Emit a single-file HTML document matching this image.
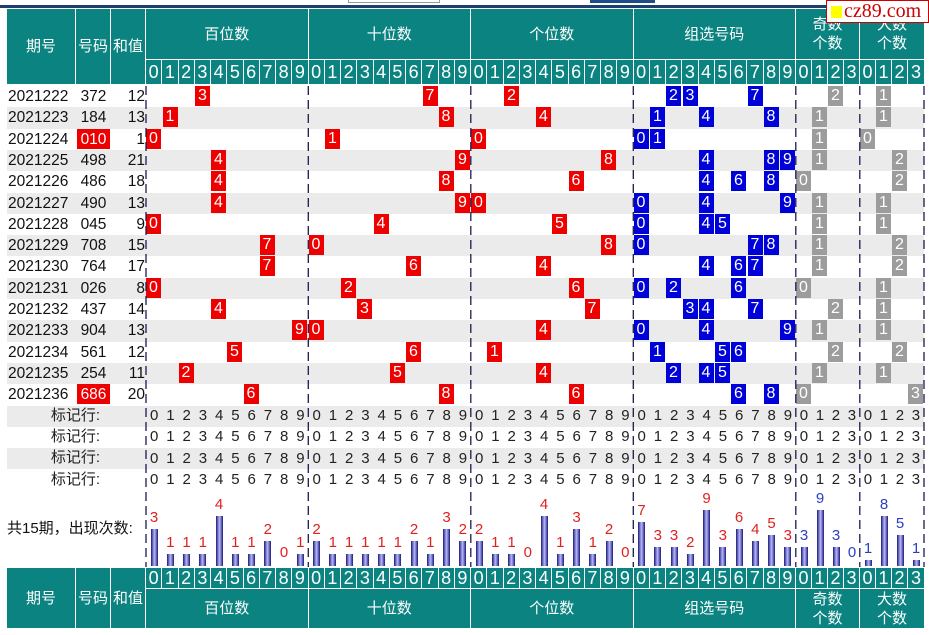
<!DOCTYPE html>
<html><head><meta charset="utf-8">
<style>
*{margin:0;padding:0;box-sizing:border-box}
body{width:929px;height:635px;background:#fff;position:relative;overflow:hidden;font-family:"Liberation Sans","Noto Sans CJK SC",sans-serif;color:#111}
.a{position:absolute}
.h{position:absolute;background:#0b8481;color:#fff;display:flex;align-items:center;justify-content:center;text-align:center;font-size:15px;line-height:19px}
.d{position:absolute;top:60px;background:#0b8481;color:#fff;font-size:18px;text-align:center;line-height:24px;height:24px;width:15.25px}
.f .d{top:568px;height:20px;line-height:20px}
.row{position:absolute;left:7px;width:917px;height:21.3px;font-size:15.5px;line-height:21px}
.g{background:#ebebeb}
.row .p{position:absolute;left:1px}
.row .n{position:absolute;left:70px;width:33px;text-align:center}
.row .n.red{background:#e00;color:#fff;height:20px}
.row .s{position:absolute;left:104px;width:34px;text-align:right}
.m{position:absolute;top:0;height:20px;width:15px;color:#fff;text-align:center;line-height:20px;font-size:16px;font-style:normal}
.r{background:#e00}.b{background:#0000d8}.k{background:#9c9c9c}
.mk{position:absolute;font-size:15px;line-height:21px;color:#222}
.dg{position:absolute;font-size:15px;line-height:21px;color:#222;letter-spacing:7.91px;white-space:nowrap}
.dq{letter-spacing:7.66px}
.bar{position:absolute;width:7px;background:linear-gradient(to right,#1a1a78,#b8b8ff 50%,#1a1a78)}
.lb{position:absolute;width:16px;text-align:center;font-size:15px;line-height:18px;color:#e02020}
.bl{color:#2a3fc0}
</style></head><body>
<div class="a" style="left:0;top:5px;width:929px;height:3px;background:#1d3f6e"></div>
<div class="a" style="left:348px;top:-2px;width:92px;height:5px;border:1px solid #999;background:#fff"></div>
<div class="a" style="left:590px;top:0;width:65px;height:3px;background:#1d4e89"></div>

<div class="h" style="left:7px;top:9px;width:68px;height:75px">期号</div>
<div class="h" style="left:76px;top:9px;width:34px;height:75px">号码</div>
<div class="h" style="left:111px;top:9px;width:34px;height:75px">和值</div>
<div class="h" style="left:146px;top:9px;width:161.5px;height:50px">百位数</div>
<div class="h" style="left:308.5px;top:9px;width:161.5px;height:50px">十位数</div>
<div class="h" style="left:471px;top:9px;width:161.5px;height:50px">个位数</div>
<div class="h" style="left:633.5px;top:9px;width:161.5px;height:50px">组选号码</div>
<div class="h" style="left:796px;top:9px;width:63px;height:50px">奇数<br>个数</div>
<div class="h" style="left:860px;top:9px;width:64px;height:50px">大数<br>个数</div>

<div>
<div class="d" style="left:146px">0</div><div class="d" style="left:162.25px">1</div><div class="d" style="left:178.5px">2</div><div class="d" style="left:194.75px">3</div><div class="d" style="left:211px">4</div><div class="d" style="left:227.25px">5</div><div class="d" style="left:243.5px">6</div><div class="d" style="left:259.75px">7</div><div class="d" style="left:276px">8</div><div class="d" style="left:292.25px">9</div>
<div class="d" style="left:308.5px">0</div><div class="d" style="left:324.75px">1</div><div class="d" style="left:341px">2</div><div class="d" style="left:357.25px">3</div><div class="d" style="left:373.5px">4</div><div class="d" style="left:389.75px">5</div><div class="d" style="left:406px">6</div><div class="d" style="left:422.25px">7</div><div class="d" style="left:438.5px">8</div><div class="d" style="left:454.75px">9</div>
<div class="d" style="left:471px">0</div><div class="d" style="left:487.25px">1</div><div class="d" style="left:503.5px">2</div><div class="d" style="left:519.75px">3</div><div class="d" style="left:536px">4</div><div class="d" style="left:552.25px">5</div><div class="d" style="left:568.5px">6</div><div class="d" style="left:584.75px">7</div><div class="d" style="left:601px">8</div><div class="d" style="left:617.25px">9</div>
<div class="d" style="left:633.5px">0</div><div class="d" style="left:649.75px">1</div><div class="d" style="left:666px">2</div><div class="d" style="left:682.25px">3</div><div class="d" style="left:698.5px">4</div><div class="d" style="left:714.75px">5</div><div class="d" style="left:731px">6</div><div class="d" style="left:747.25px">7</div><div class="d" style="left:763.5px">8</div><div class="d" style="left:779.75px">9</div>
<div class="d" style="left:796px;width:15px">0</div><div class="d" style="left:812px;width:15px">1</div><div class="d" style="left:828px;width:15px">2</div><div class="d" style="left:844px;width:15px">3</div>
<div class="d" style="left:860px;width:15px">0</div><div class="d" style="left:876px;width:15px">1</div><div class="d" style="left:892px;width:15px">2</div><div class="d" style="left:908px;width:16px">3</div>
</div>

<div class="row" style="top:86px"><span class="p">2021222</span><span class="n">372</span><span class="s">12</span>
<i class="m r" style="left:188px">3</i><i class="m r" style="left:415.5px">7</i><i class="m r" style="left:497px">2</i>
<i class="m b" style="left:659px">2</i><i class="m b" style="left:675.5px">3</i><i class="m b" style="left:740.5px">7</i><i class="m k" style="left:821px">2</i><i class="m k" style="left:869px">1</i></div>
<div class="row g" style="top:107.3px"><span class="p">2021223</span><span class="n">184</span><span class="s">13</span>
<i class="m r" style="left:155.5px">1</i><i class="m r" style="left:431.5px">8</i><i class="m r" style="left:529px">4</i>
<i class="m b" style="left:643px">1</i><i class="m b" style="left:691.5px">4</i><i class="m b" style="left:756.5px">8</i><i class="m k" style="left:805px">1</i><i class="m k" style="left:869px">1</i></div>
<div class="row" style="top:128.6px"><span class="p">2021224</span><span class="n red">010</span><span class="s">1</span>
<i class="m r" style="left:139px">0</i><i class="m r" style="left:318px">1</i><i class="m r" style="left:464px">0</i>
<i class="m b" style="left:626.5px">0</i><i class="m b" style="left:643px">1</i><i class="m k" style="left:805px">1</i><i class="m k" style="left:853px">0</i></div>
<div class="row g" style="top:149.9px"><span class="p">2021225</span><span class="n">498</span><span class="s">21</span>
<i class="m r" style="left:204px">4</i><i class="m r" style="left:448px">9</i><i class="m r" style="left:594px">8</i>
<i class="m b" style="left:691.5px">4</i><i class="m b" style="left:756.5px">8</i><i class="m b" style="left:773px">9</i><i class="m k" style="left:805px">1</i><i class="m k" style="left:885px">2</i></div>
<div class="row" style="top:171.2px"><span class="p">2021226</span><span class="n">486</span><span class="s">18</span>
<i class="m r" style="left:204px">4</i><i class="m r" style="left:431.5px">8</i><i class="m r" style="left:561.5px">6</i>
<i class="m b" style="left:691.5px">4</i><i class="m b" style="left:724px">6</i><i class="m b" style="left:756.5px">8</i><i class="m k" style="left:789px">0</i><i class="m k" style="left:885px">2</i></div>
<div class="row g" style="top:192.5px"><span class="p">2021227</span><span class="n">490</span><span class="s">13</span>
<i class="m r" style="left:204px">4</i><i class="m r" style="left:448px">9</i><i class="m r" style="left:464px">0</i>
<i class="m b" style="left:626.5px">0</i><i class="m b" style="left:691.5px">4</i><i class="m b" style="left:773px">9</i><i class="m k" style="left:805px">1</i><i class="m k" style="left:869px">1</i></div>
<div class="row" style="top:213.8px"><span class="p">2021228</span><span class="n">045</span><span class="s">9</span>
<i class="m r" style="left:139px">0</i><i class="m r" style="left:366.5px">4</i><i class="m r" style="left:545px">5</i>
<i class="m b" style="left:626.5px">0</i><i class="m b" style="left:691.5px">4</i><i class="m b" style="left:708px">5</i><i class="m k" style="left:805px">1</i><i class="m k" style="left:869px">1</i></div>
<div class="row g" style="top:235.1px"><span class="p">2021229</span><span class="n">708</span><span class="s">15</span>
<i class="m r" style="left:252.5px">7</i><i class="m r" style="left:301.5px">0</i><i class="m r" style="left:594px">8</i>
<i class="m b" style="left:626.5px">0</i><i class="m b" style="left:740.5px">7</i><i class="m b" style="left:756.5px">8</i><i class="m k" style="left:805px">1</i><i class="m k" style="left:885px">2</i></div>
<div class="row" style="top:256.4px"><span class="p">2021230</span><span class="n">764</span><span class="s">17</span>
<i class="m r" style="left:252.5px">7</i><i class="m r" style="left:399px">6</i><i class="m r" style="left:529px">4</i>
<i class="m b" style="left:691.5px">4</i><i class="m b" style="left:724px">6</i><i class="m b" style="left:740.5px">7</i><i class="m k" style="left:805px">1</i><i class="m k" style="left:885px">2</i></div>
<div class="row g" style="top:277.7px"><span class="p">2021231</span><span class="n">026</span><span class="s">8</span>
<i class="m r" style="left:139px">0</i><i class="m r" style="left:334px">2</i><i class="m r" style="left:561.5px">6</i>
<i class="m b" style="left:626.5px">0</i><i class="m b" style="left:659px">2</i><i class="m b" style="left:724px">6</i><i class="m k" style="left:789px">0</i><i class="m k" style="left:869px">1</i></div>
<div class="row" style="top:299px"><span class="p">2021232</span><span class="n">437</span><span class="s">14</span>
<i class="m r" style="left:204px">4</i><i class="m r" style="left:350px">3</i><i class="m r" style="left:577.5px">7</i>
<i class="m b" style="left:675.5px">3</i><i class="m b" style="left:691.5px">4</i><i class="m b" style="left:740.5px">7</i><i class="m k" style="left:821px">2</i><i class="m k" style="left:869px">1</i></div>
<div class="row g" style="top:320.3px"><span class="p">2021233</span><span class="n">904</span><span class="s">13</span>
<i class="m r" style="left:285px">9</i><i class="m r" style="left:301.5px">0</i><i class="m r" style="left:529px">4</i>
<i class="m b" style="left:626.5px">0</i><i class="m b" style="left:691.5px">4</i><i class="m b" style="left:773px">9</i><i class="m k" style="left:805px">1</i><i class="m k" style="left:869px">1</i></div>
<div class="row" style="top:341.6px"><span class="p">2021234</span><span class="n">561</span><span class="s">12</span>
<i class="m r" style="left:220px">5</i><i class="m r" style="left:399px">6</i><i class="m r" style="left:480px">1</i>
<i class="m b" style="left:643px">1</i><i class="m b" style="left:708px">5</i><i class="m b" style="left:724px">6</i><i class="m k" style="left:821px">2</i><i class="m k" style="left:885px">2</i></div>
<div class="row g" style="top:362.9px"><span class="p">2021235</span><span class="n">254</span><span class="s">11</span>
<i class="m r" style="left:171.5px">2</i><i class="m r" style="left:383px">5</i><i class="m r" style="left:529px">4</i>
<i class="m b" style="left:659px">2</i><i class="m b" style="left:691.5px">4</i><i class="m b" style="left:708px">5</i><i class="m k" style="left:805px">1</i><i class="m k" style="left:869px">1</i></div>
<div class="row" style="top:384.2px"><span class="p">2021236</span><span class="n red">686</span><span class="s">20</span>
<i class="m r" style="left:236.5px">6</i><i class="m r" style="left:431.5px">8</i><i class="m r" style="left:561.5px">6</i>
<i class="m b" style="left:724px">6</i><i class="m b" style="left:756.5px">8</i><i class="m k" style="left:789px">0</i><i class="m k" style="left:901px">3</i></div>

<div class="row g" style="top:405.5px"></div>
<div class="row" style="top:426.8px"></div>
<div class="row g" style="top:448.1px"></div>
<div class="row" style="top:469.4px"></div>
<div class="mk" style="left:40px;top:405px;width:60px;text-align:right">标记行:</div>
<div class="mk" style="left:40px;top:426px;width:60px;text-align:right">标记行:</div>
<div class="mk" style="left:40px;top:447px;width:60px;text-align:right">标记行:</div>
<div class="mk" style="left:40px;top:469px;width:60px;text-align:right">标记行:</div>

<div class="dg" style="left:150px;top:405px">0123456789</div><div class="dg" style="left:312.5px;top:405px">0123456789</div><div class="dg" style="left:475px;top:405px">0123456789</div><div class="dg" style="left:637.5px;top:405px">0123456789</div><div class="dg dq" style="left:799.8px;top:405px">0123</div><div class="dg dq" style="left:863.8px;top:405px">0123</div>
<div class="dg" style="left:150px;top:426.3px">0123456789</div><div class="dg" style="left:312.5px;top:426.3px">0123456789</div><div class="dg" style="left:475px;top:426.3px">0123456789</div><div class="dg" style="left:637.5px;top:426.3px">0123456789</div><div class="dg dq" style="left:799.8px;top:426.3px">0123</div><div class="dg dq" style="left:863.8px;top:426.3px">0123</div>
<div class="dg" style="left:150px;top:447.6px">0123456789</div><div class="dg" style="left:312.5px;top:447.6px">0123456789</div><div class="dg" style="left:475px;top:447.6px">0123456789</div><div class="dg" style="left:637.5px;top:447.6px">0123456789</div><div class="dg dq" style="left:799.8px;top:447.6px">0123</div><div class="dg dq" style="left:863.8px;top:447.6px">0123</div>
<div class="dg" style="left:150px;top:468.9px">0123456789</div><div class="dg" style="left:312.5px;top:468.9px">0123456789</div><div class="dg" style="left:475px;top:468.9px">0123456789</div><div class="dg" style="left:637.5px;top:468.9px">0123456789</div><div class="dg dq" style="left:799.8px;top:468.9px">0123</div><div class="dg dq" style="left:863.8px;top:468.9px">0123</div>

<div class="a" style="left:7px;top:519px;font-size:15px;line-height:20px">共15期，出现次数:</div>

<!-- bars 百 -->
<div class="bar" style="left:150.6px;top:528.5px;height:37.5px"></div><div class="lb" style="left:146px;top:508.5px">3</div>
<div class="bar" style="left:166.85px;top:553.5px;height:12.5px"></div><div class="lb" style="left:162.25px;top:533.5px">1</div>
<div class="bar" style="left:183.1px;top:553.5px;height:12.5px"></div><div class="lb" style="left:178.5px;top:533.5px">1</div>
<div class="bar" style="left:199.35px;top:553.5px;height:12.5px"></div><div class="lb" style="left:194.75px;top:533.5px">1</div>
<div class="bar" style="left:215.6px;top:516px;height:50px"></div><div class="lb" style="left:211px;top:496px">4</div>
<div class="bar" style="left:231.85px;top:553.5px;height:12.5px"></div><div class="lb" style="left:227.25px;top:533.5px">1</div>
<div class="bar" style="left:248.1px;top:553.5px;height:12.5px"></div><div class="lb" style="left:243.5px;top:533.5px">1</div>
<div class="bar" style="left:264.35px;top:541px;height:25px"></div><div class="lb" style="left:259.75px;top:521px">2</div>
<div class="lb" style="left:276px;top:544px">0</div>
<div class="bar" style="left:296.85px;top:553.5px;height:12.5px"></div><div class="lb" style="left:292.25px;top:533.5px">1</div>
<!-- 十 -->
<div class="bar" style="left:313.1px;top:541px;height:25px"></div><div class="lb" style="left:308.5px;top:521px">2</div>
<div class="bar" style="left:329.35px;top:553.5px;height:12.5px"></div><div class="lb" style="left:324.75px;top:533.5px">1</div>
<div class="bar" style="left:345.6px;top:553.5px;height:12.5px"></div><div class="lb" style="left:341px;top:533.5px">1</div>
<div class="bar" style="left:361.85px;top:553.5px;height:12.5px"></div><div class="lb" style="left:357.25px;top:533.5px">1</div>
<div class="bar" style="left:378.1px;top:553.5px;height:12.5px"></div><div class="lb" style="left:373.5px;top:533.5px">1</div>
<div class="bar" style="left:394.35px;top:553.5px;height:12.5px"></div><div class="lb" style="left:389.75px;top:533.5px">1</div>
<div class="bar" style="left:410.6px;top:541px;height:25px"></div><div class="lb" style="left:406px;top:521px">2</div>
<div class="bar" style="left:426.85px;top:553.5px;height:12.5px"></div><div class="lb" style="left:422.25px;top:533.5px">1</div>
<div class="bar" style="left:443.1px;top:528.5px;height:37.5px"></div><div class="lb" style="left:438.5px;top:508.5px">3</div>
<div class="bar" style="left:459.35px;top:541px;height:25px"></div><div class="lb" style="left:454.75px;top:521px">2</div>
<!-- 个 -->
<div class="bar" style="left:475.6px;top:541px;height:25px"></div><div class="lb" style="left:471px;top:521px">2</div>
<div class="bar" style="left:491.85px;top:553.5px;height:12.5px"></div><div class="lb" style="left:487.25px;top:533.5px">1</div>
<div class="bar" style="left:508.1px;top:553.5px;height:12.5px"></div><div class="lb" style="left:503.5px;top:533.5px">1</div>
<div class="lb" style="left:519.75px;top:544px">0</div>
<div class="bar" style="left:540.6px;top:516px;height:50px"></div><div class="lb" style="left:536px;top:496px">4</div>
<div class="bar" style="left:556.85px;top:553.5px;height:12.5px"></div><div class="lb" style="left:552.25px;top:533.5px">1</div>
<div class="bar" style="left:573.1px;top:528.5px;height:37.5px"></div><div class="lb" style="left:568.5px;top:508.5px">3</div>
<div class="bar" style="left:589.35px;top:553.5px;height:12.5px"></div><div class="lb" style="left:584.75px;top:533.5px">1</div>
<div class="bar" style="left:605.6px;top:541px;height:25px"></div><div class="lb" style="left:601px;top:521px">2</div>
<div class="lb" style="left:617.25px;top:544px">0</div>
<!-- 组选 -->
<div class="bar" style="left:638.1px;top:522.25px;height:43.75px"></div><div class="lb" style="left:633.5px;top:502.25px">7</div>
<div class="bar" style="left:654.35px;top:547.25px;height:18.75px"></div><div class="lb" style="left:649.75px;top:527.25px">3</div>
<div class="bar" style="left:670.6px;top:547.25px;height:18.75px"></div><div class="lb" style="left:666px;top:527.25px">3</div>
<div class="bar" style="left:686.85px;top:553.5px;height:12.5px"></div><div class="lb" style="left:682.25px;top:533.5px">2</div>
<div class="bar" style="left:703.1px;top:509.75px;height:56.25px"></div><div class="lb" style="left:698.5px;top:489.75px">9</div>
<div class="bar" style="left:719.35px;top:547.25px;height:18.75px"></div><div class="lb" style="left:714.75px;top:527.25px">3</div>
<div class="bar" style="left:735.6px;top:528.5px;height:37.5px"></div><div class="lb" style="left:731px;top:508.5px">6</div>
<div class="bar" style="left:751.85px;top:541px;height:25px"></div><div class="lb" style="left:747.25px;top:521px">4</div>
<div class="bar" style="left:768.1px;top:534.75px;height:31.25px"></div><div class="lb" style="left:763.5px;top:514.75px">5</div>
<div class="bar" style="left:784.35px;top:547.25px;height:18.75px"></div><div class="lb" style="left:779.75px;top:527.25px">3</div>
<!-- 奇 -->
<div class="bar" style="left:800.5px;top:547.25px;height:18.75px"></div><div class="lb bl" style="left:796px;top:527.25px">3</div>
<div class="bar" style="left:816.5px;top:509.75px;height:56.25px"></div><div class="lb bl" style="left:812px;top:489.75px">9</div>
<div class="bar" style="left:832.5px;top:547.25px;height:18.75px"></div><div class="lb bl" style="left:828px;top:527.25px">3</div>
<div class="lb bl" style="left:844px;top:544px">0</div>
<!-- 大 -->
<div class="bar" style="left:864.5px;top:559.75px;height:6.25px"></div><div class="lb bl" style="left:860px;top:539.75px">1</div>
<div class="bar" style="left:880.5px;top:516px;height:50px"></div><div class="lb bl" style="left:876px;top:496px">8</div>
<div class="bar" style="left:896.5px;top:534.75px;height:31.25px"></div><div class="lb bl" style="left:892px;top:514.75px">5</div>
<div class="bar" style="left:912.5px;top:559.75px;height:6.25px"></div><div class="lb bl" style="left:908px;top:539.75px">1</div>

<div class="h" style="left:7px;top:568px;width:68px;height:60px">期号</div>
<div class="h" style="left:76px;top:568px;width:34px;height:60px">号码</div>
<div class="h" style="left:111px;top:568px;width:34px;height:60px">和值</div>
<div class="h" style="left:146px;top:589px;width:161.5px;height:39px">百位数</div>
<div class="h" style="left:308.5px;top:589px;width:161.5px;height:39px">十位数</div>
<div class="h" style="left:471px;top:589px;width:161.5px;height:39px">个位数</div>
<div class="h" style="left:633.5px;top:589px;width:161.5px;height:39px">组选号码</div>
<div class="h" style="left:796px;top:589px;width:63px;height:39px">奇数<br>个数</div>
<div class="h" style="left:860px;top:589px;width:64px;height:39px">大数<br>个数</div>

<div class="f">
<div class="d" style="left:146px">0</div><div class="d" style="left:162.25px">1</div><div class="d" style="left:178.5px">2</div><div class="d" style="left:194.75px">3</div><div class="d" style="left:211px">4</div><div class="d" style="left:227.25px">5</div><div class="d" style="left:243.5px">6</div><div class="d" style="left:259.75px">7</div><div class="d" style="left:276px">8</div><div class="d" style="left:292.25px">9</div>
<div class="d" style="left:308.5px">0</div><div class="d" style="left:324.75px">1</div><div class="d" style="left:341px">2</div><div class="d" style="left:357.25px">3</div><div class="d" style="left:373.5px">4</div><div class="d" style="left:389.75px">5</div><div class="d" style="left:406px">6</div><div class="d" style="left:422.25px">7</div><div class="d" style="left:438.5px">8</div><div class="d" style="left:454.75px">9</div>
<div class="d" style="left:471px">0</div><div class="d" style="left:487.25px">1</div><div class="d" style="left:503.5px">2</div><div class="d" style="left:519.75px">3</div><div class="d" style="left:536px">4</div><div class="d" style="left:552.25px">5</div><div class="d" style="left:568.5px">6</div><div class="d" style="left:584.75px">7</div><div class="d" style="left:601px">8</div><div class="d" style="left:617.25px">9</div>
<div class="d" style="left:633.5px">0</div><div class="d" style="left:649.75px">1</div><div class="d" style="left:666px">2</div><div class="d" style="left:682.25px">3</div><div class="d" style="left:698.5px">4</div><div class="d" style="left:714.75px">5</div><div class="d" style="left:731px">6</div><div class="d" style="left:747.25px">7</div><div class="d" style="left:763.5px">8</div><div class="d" style="left:779.75px">9</div>
<div class="d" style="left:796px;width:15px">0</div><div class="d" style="left:812px;width:15px">1</div><div class="d" style="left:828px;width:15px">2</div><div class="d" style="left:844px;width:15px">3</div>
<div class="d" style="left:860px;width:15px">0</div><div class="d" style="left:876px;width:15px">1</div><div class="d" style="left:892px;width:15px">2</div><div class="d" style="left:908px;width:16px">3</div>
</div>

<svg class="a" style="left:0;top:0" width="929" height="635">
<g stroke="#1a1a50" stroke-width="1.3" stroke-dasharray="9,5">
<line x1="146" y1="86" x2="146" y2="567"/><line x1="308.3" y1="86" x2="308.3" y2="567"/>
<line x1="470.8" y1="86" x2="470.8" y2="567"/><line x1="633.3" y1="86" x2="633.3" y2="567"/>
<line x1="795.8" y1="86" x2="795.8" y2="567"/><line x1="859.8" y1="86" x2="859.8" y2="567"/>
<line x1="924" y1="86" x2="924" y2="567"/>
</g></svg>

<div class="a" style="left:826px;top:0;width:103px;height:23px;background:#fff;border:1px solid #c00"></div>
<div class="a" style="left:831px;top:6px;width:11px;height:12px;background:#ff0"></div>
<div class="a" style="left:844px;top:0;font-family:'Liberation Serif',serif;font-size:20px;line-height:22px;color:#c00">cz89.com</div>
</body></html>
